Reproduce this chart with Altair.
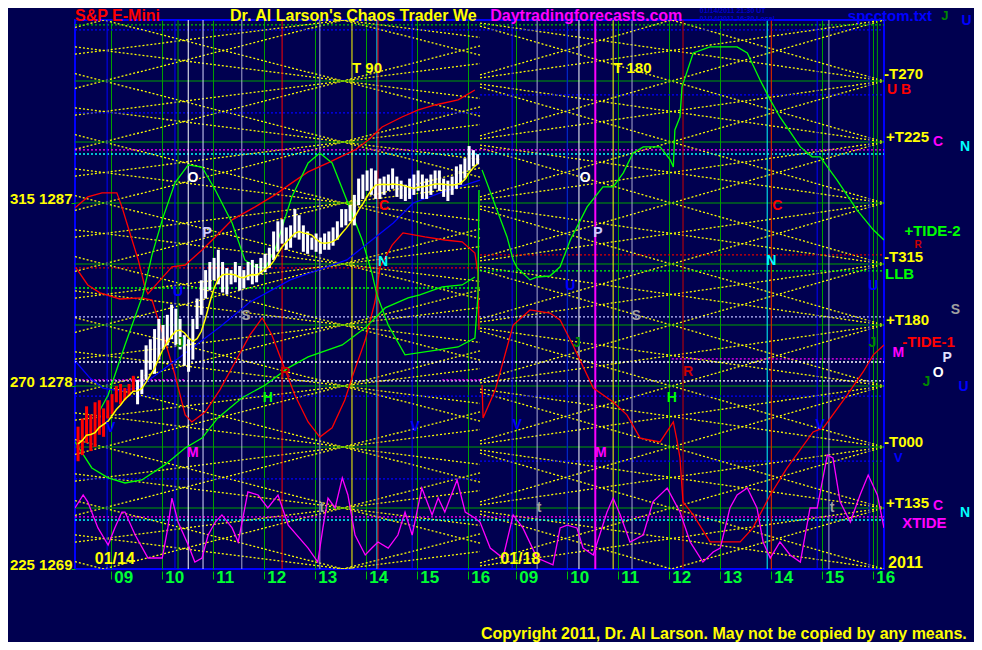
import altair as alt
import pandas as pd

# ---------------------------------------------------------------- settings
BG = "#000050"
FONT = "Liberation Sans, Arial, sans-serif"

# two sessions on one continuous hour axis; session-2 clock hour + DAY2_SHIFT = axis value
X_MIN, X_MAX = 8.30, 24.16
DAY1_END = 16.24
DAY2_SHIFT = 7.94
Y_MIN, Y_MAX = 1269, 1296

hour_ticks = [9, 10, 11, 12, 13, 14, 15, 16]
y_ticks = [1269, 1278, 1287]
y_tick_deg = ["225", "270", "315"]

# ---------------------------------------------------------------- price bars (5 min, session 1)
bar_start = 8.36
bar_minutes = 5
n_red = 14
bar_high = [1276.0, 1276.4, 1277.0, 1276.6, 1277.2, 1277.3, 1276.9, 1277.3, 1277.6, 1278.0, 1278.1, 1277.9, 1278.1, 1278.5,
            1278.3, 1278.8, 1280.0, 1280.3, 1280.8, 1281.3, 1281.0, 1281.5, 1282.0, 1281.8,
            1281.3, 1280.5, 1280.3, 1281.3, 1282.3, 1283.2, 1283.7, 1284.1, 1284.3, 1284.7,
            1284.1, 1283.8, 1283.7, 1284.1, 1283.9, 1283.7, 1284.1, 1284.2, 1284.0, 1284.3,
            1284.5, 1284.8, 1285.6, 1286.1, 1286.2, 1285.8, 1285.9, 1286.7, 1286.4, 1285.9,
            1285.6, 1285.3, 1285.5, 1285.3, 1285.5, 1285.6, 1285.8, 1286.1, 1286.7, 1286.7,
            1286.9, 1287.4, 1288.2, 1288.4, 1288.6, 1288.7, 1288.6, 1288.2, 1288.3, 1288.4,
            1288.7, 1288.3, 1288.1, 1287.9, 1288.2, 1288.4, 1288.6, 1288.4, 1288.2, 1288.4,
            1288.6, 1288.6, 1288.2, 1288.1, 1288.3, 1288.8, 1288.9, 1289.2, 1289.8, 1289.6,
            1289.4]
bar_low = [1274.3, 1274.6, 1275.2, 1274.8, 1275.0, 1275.6, 1275.5, 1276.4, 1276.6, 1277.2, 1277.1, 1277.3, 1277.5, 1277.7,
           1277.1, 1277.6, 1278.3, 1278.8, 1278.6, 1279.3, 1279.8, 1280.0, 1280.3, 1280.0,
           1279.8, 1279.0, 1278.7, 1279.3, 1280.8, 1281.5, 1282.3, 1282.7, 1283.2, 1283.0,
           1282.6, 1282.5, 1283.0, 1283.1, 1282.7, 1282.8, 1283.2, 1283.0, 1283.1, 1283.5,
           1283.6, 1283.8, 1284.2, 1284.6, 1285.0, 1284.7, 1284.8, 1285.3, 1285.2, 1284.6,
           1284.5, 1284.7, 1284.6, 1284.5, 1284.7, 1284.7, 1284.9, 1285.2, 1285.8, 1285.9,
           1286.1, 1285.9, 1286.9, 1287.2, 1287.6, 1287.4, 1287.2, 1287.2, 1287.4, 1287.6,
           1287.7, 1287.3, 1287.2, 1287.1, 1287.2, 1287.4, 1287.6, 1287.2, 1287.2, 1287.4,
           1287.7, 1287.6, 1287.3, 1287.1, 1287.4, 1287.7, 1287.9, 1288.2, 1288.6, 1288.8,
           1288.9]

# ---------------------------------------------------------------- forecast curves
red_a_t = [8.30, 8.55, 8.83, 9.12, 9.22, 9.34, 9.54, 9.67, 9.73, 10.20, 10.46, 10.79, 11.05, 11.38, 11.83,
           12.22, 12.55, 12.87, 13.26, 13.79, 14.05, 14.32, 14.71, 15.03, 15.36, 15.81, 16.14]
red_a_p = [1286.76, 1287.30, 1287.50, 1287.50, 1286.81, 1285.82, 1284.20, 1282.87, 1282.53, 1283.86, 1283.95,
           1284.69, 1285.33, 1286.17, 1286.81, 1287.40, 1287.99, 1288.53, 1288.97, 1289.61, 1290.10, 1290.74,
           1291.23, 1291.58, 1291.82, 1292.07, 1292.56]

red_b_t = [8.32, 8.55, 8.79, 9.18, 9.61, 9.81, 10.06, 10.26, 10.46, 10.59, 10.85, 11.14, 11.44, 11.73, 11.97,
           12.16, 12.36, 12.61, 12.87, 13.10, 13.34, 13.59, 13.73, 13.99, 14.18, 14.28, 14.52, 14.73, 15.16,
           15.55, 15.89, 16.14, 16.20, 16.22]
red_b_p = [1283.81, 1282.97, 1282.58, 1282.28, 1282.33, 1282.23, 1280.26, 1278.54, 1276.58, 1276.23, 1276.72,
           1277.81, 1279.18, 1280.51, 1281.35, 1280.51, 1279.18, 1277.56, 1276.23, 1275.49, 1275.94, 1277.31,
           1278.40, 1280.26, 1282.13, 1283.86, 1284.94, 1285.53, 1285.33, 1285.18, 1285.09, 1284.54, 1283.56,
           1280.76]

red_c_t = [16.28, 16.30, 16.54, 16.89, 17.22, 17.61, 17.81, 18.06, 18.46, 18.85, 19.12, 19.38, 19.77, 20.03,
           20.10, 20.16, 20.22, 20.42, 20.75, 21.34, 21.59, 21.93, 22.26, 22.77, 22.97, 23.44, 23.75, 23.95, 24.16]
red_c_p = [1278.05, 1276.43, 1277.81, 1281.00, 1281.74, 1281.59, 1281.25, 1280.02, 1277.90, 1277.21, 1276.58,
           1275.44, 1275.25, 1276.23, 1275.35, 1274.46, 1272.30, 1271.66, 1270.33, 1270.33, 1271.02, 1272.64,
           1273.97, 1275.74, 1275.94, 1277.56, 1278.69, 1279.53, 1280.02]

green_a_t = [8.79, 8.95, 9.28, 9.63, 9.81, 10.01, 10.26, 10.52, 10.79, 11.05, 11.38, 11.63, 11.83, 12.03, 12.22,
             12.55, 12.87, 13.10, 13.34, 13.65, 13.93, 14.12, 14.22, 14.44, 14.77, 15.81, 16.14, 16.20, 16.22]
green_a_p = [1276.82, 1277.56, 1280.02, 1282.48, 1284.45, 1286.17, 1287.99, 1288.87, 1288.77, 1287.64, 1286.02,
             1284.20, 1283.86, 1283.81, 1284.69, 1287.30, 1288.97, 1289.46, 1288.97, 1287.00, 1285.18, 1283.56,
             1282.48, 1281.00, 1279.53, 1279.92, 1280.36, 1282.48, 1287.64]

green_b_t = [8.30, 8.63, 8.95, 9.28, 9.61, 10.06, 10.46, 10.79, 11.10, 11.57, 12.03, 12.48, 12.87, 13.54, 13.99,
             14.38, 14.83, 15.06, 15.50, 15.89, 16.14]
green_b_p = [1275.25, 1273.97, 1273.48, 1273.23, 1273.38, 1274.12, 1274.95, 1275.44, 1276.43, 1277.41, 1278.05,
             1278.89, 1279.43, 1280.02, 1280.86, 1281.84, 1282.33, 1282.48, 1282.87, 1282.97, 1283.36]

green_c_t = [16.28, 16.50, 16.77, 16.89, 16.97, 17.22, 17.36, 17.61, 17.81, 18.01, 18.34, 18.65, 18.85, 19.05,
             19.24, 19.44, 19.77, 19.97, 20.03, 20.06, 20.16, 20.20, 20.42, 20.75, 21.28, 21.48, 21.73, 21.93,
             22.12, 22.52, 22.75, 22.91, 23.24, 23.63, 23.95, 24.16]
green_c_p = [1288.63, 1287.15, 1285.33, 1284.20, 1283.81, 1283.22, 1283.36, 1283.41, 1283.86, 1285.18, 1286.81,
             1287.79, 1287.79, 1288.48, 1289.46, 1289.76, 1289.76, 1289.12, 1288.77, 1290.59, 1291.23, 1292.71,
             1294.38, 1294.68, 1294.68, 1294.38, 1293.05, 1292.07, 1291.23, 1289.76, 1289.27, 1289.27, 1288.13,
             1286.66, 1285.68, 1285.18]

blue_t = [8.32, 8.59, 8.85, 9.18, 9.52, 9.83, 10.36, 11.14, 11.73, 12.52, 13.63, 14.54, 14.93, 15.46, 16.24]
blue_p = [1279.18, 1278.40, 1277.90, 1277.76, 1277.90, 1278.44, 1279.43, 1280.90, 1282.13, 1283.22, 1284.20,
          1286.02, 1287.00, 1287.50, 1288.13]

xtide_t = [8.30, 8.46, 8.55, 8.75, 8.95, 9.08, 9.22, 9.28, 9.48, 9.73, 10.01, 10.12, 10.20, 10.32, 10.52, 10.65,
           10.79, 10.91, 11.05, 11.18, 11.38, 11.50, 11.69, 11.89, 12.08, 12.28, 12.48, 12.87, 13.06, 13.16, 13.26,
           13.40, 13.54, 13.65, 13.79, 13.99, 14.12, 14.24, 14.44, 14.63, 14.77, 14.91, 15.10, 15.30, 15.42, 15.55,
           15.79, 15.95, 16.14, 16.24,
           16.44, 16.69, 16.89, 17.08, 17.36, 17.67, 17.81, 17.95, 18.14, 18.26, 18.46, 18.73, 18.85, 18.99, 19.18,
           19.44, 19.63, 19.91, 20.16, 20.36, 20.61, 20.81, 20.95, 21.14, 21.28, 21.48, 21.67, 21.79, 21.93, 22.12,
           22.32, 22.52, 22.71, 22.85, 23.05, 23.16, 23.30, 23.50, 23.69, 23.85, 24.03, 24.16]
xtide_p = [1272.00, 1272.64, 1272.30, 1271.02, 1270.18, 1271.02, 1271.80, 1271.80, 1270.67, 1269.54, 1269.54,
           1271.02, 1272.49, 1271.31, 1270.18, 1269.34, 1269.54, 1270.67, 1271.31, 1271.66, 1271.02, 1270.33,
           1272.79, 1272.64, 1272.00, 1272.64, 1271.16, 1270.03, 1269.34, 1271.02, 1272.49, 1272.00, 1273.48,
           1272.64, 1270.67, 1269.69, 1270.03, 1270.33, 1270.03, 1270.67, 1271.80, 1270.67, 1272.98, 1271.66,
           1272.49, 1271.80, 1273.38, 1271.80, 1271.51, 1271.31,
           1270.03, 1269.54, 1271.66, 1271.02, 1269.54, 1269.20, 1271.02, 1271.16, 1271.02, 1270.03, 1269.69,
           1271.80, 1272.49, 1271.66, 1270.33, 1270.67, 1272.30, 1272.98, 1271.80, 1270.33, 1269.34, 1269.84,
           1270.03, 1272.00, 1272.64, 1272.98, 1272.00, 1270.33, 1269.54, 1270.33, 1269.69, 1269.34, 1272.00,
           1272.00, 1274.61, 1274.46, 1272.30, 1271.31, 1272.64, 1273.62, 1272.64, 1271.02]

# ---------------------------------------------------------------- time/price lattice
lattice_base = 1269
lattice_step = 3
lattice_days = [  # (session start, session end, crossing time, slopes in points/hour)
    (X_MIN, DAY1_END, 13.55, [0.64, -0.64, 0.32, -0.32]),
    (DAY1_END, X_MAX, 24.16, [0.72, -0.72, 0.36, -0.36]),
]
green_levels = [1272, 1275, 1278, 1281, 1284, 1287, 1290, 1293]

# ---------------------------------------------------------------- marker lines
vline_t = [8.93, 10.26, 10.32, 10.52, 10.81, 11.57, 12.36, 13.10, 13.73, 14.22, 14.24, 14.91,
           16.87, 17.36, 17.95, 18.18, 18.50, 18.85, 19.22, 20.22, 21.87, 21.95, 22.85, 23.08, 23.87, 24.03]
vline_color = ["#0000ff", "#0000ff", "#00a000", "#ffffff", "#d8d8ff", "#a8a8d0", "#ff0000", "#a8a8d0",
               "#ffff00", "#00ffff", "#ff0000", "#0000ff",
               "#0000ff", "#a8a8d0", "#0000ff", "#ffffff", "#ff00ff", "#ffff00", "#a8a8d0", "#cc0000",
               "#00ffff", "#ff0000", "#0000ff", "#a8a8d0", "#0000ff", "#00a000"]

hline_t0 = [X_MIN, X_MIN, X_MIN, DAY1_END, X_MIN, X_MIN, X_MIN, DAY1_END, X_MIN, DAY1_END, X_MIN, X_MIN, X_MIN,
            8.44, 15.50, 20.00, X_MIN, X_MIN, DAY1_END, X_MIN, X_MIN]
hline_t1 = [X_MAX, X_MAX, DAY1_END, X_MAX, X_MAX, X_MAX, DAY1_END, X_MAX, DAY1_END, X_MAX, X_MAX, X_MAX, X_MAX,
            10.46, DAY1_END, X_MAX, X_MAX, DAY1_END, X_MAX, X_MAX, X_MAX]
hline_p = [1295.76, 1295.51, 1291.43, 1292.32, 1289.61, 1289.41, 1283.81, 1284.45, 1282.82, 1283.66, 1281.40,
           1279.18, 1278.25, 1278.30, 1278.30, 1279.33, 1277.50, 1273.43, 1274.31, 1271.56, 1271.41]
hline_color = ["#00c000", "#0000ff", "#0000ff", "#0000ff", "#ff00ff", "#00ffff", "#dd0000", "#dd0000",
               "#00ff00", "#00ff00", "#c0c0ff", "#ffffff", "#ffffff", "#ff00ff", "#ff00ff", "#ff00ff",
               "#0000ff", "#0000ff", "#0000ff", "#ff00ff", "#00ffff"]

# ---------------------------------------------------------------- texts
letters = [  # (text, t, p, colour, size)  centred
    ("O", 10.61, 1288.23, "#ffffff", 14), ("P", 10.89, 1285.53, "#ccccff", 14), ("S", 11.65, 1281.45, "#a0a0a0", 14),
    ("M", 10.61, 1274.71, "#ff00ff", 14), ("H", 12.08, 1277.41, "#00ff00", 14), ("R", 12.42, 1278.64, "#cc0000", 14),
    ("C", 14.36, 1286.86, "#ff0000", 14), ("N", 14.34, 1284.10, "#00ffff", 14), ("V", 9.00, 1275.94, "#0000ff", 14),
    ("V", 14.97, 1275.99, "#0000ff", 14), ("J", 10.36, 1280.10, "#008800", 14), ("t", 13.14, 1272.0, "#a0a0a0", 14),
    ("U", 10.32, 1282.6, "#0000ff", 14),
    ("O", 18.30, 1288.23, "#ffffff", 14), ("P", 18.55, 1285.53, "#ccccff", 14), ("S", 19.30, 1281.45, "#a0a0a0", 14),
    ("M", 18.61, 1274.71, "#ff00ff", 14), ("H", 20.00, 1277.41, "#00ff00", 14), ("R", 20.32, 1278.69, "#cc0000", 14),
    ("C", 22.07, 1286.86, "#ff0000", 14), ("N", 21.95, 1284.15, "#00ffff", 14), ("V", 16.97, 1276.08, "#0000ff", 14),
    ("V", 22.91, 1276.08, "#0000ff", 14), ("J", 18.14, 1280.10, "#008800", 14), ("t", 17.40, 1272.0, "#a0a0a0", 14),
    ("t", 23.14, 1272.0, "#a0a0a0", 14), ("J", 23.93, 1280.10, "#008800", 14), ("U", 18.01, 1282.9, "#0000ff", 14),
    ("U", 23.95, 1282.9, "#0000ff", 14),
    # right margin
    ("C", 25.22, 1290.00, "#ff00ff", 14), ("N", 25.75, 1289.76, "#00ffff", 14), ("R", 24.83, 1284.95, "#cc0000", 10),
    ("S", 25.56, 1281.74, "#a0a0a0", 14), ("M", 24.44, 1279.63, "#ff00ff", 14), ("P", 25.40, 1279.40, "#e0e0ff", 14),
    ("O", 25.22, 1278.64, "#ffffff", 14), ("J", 24.99, 1278.20, "#008800", 14), ("U", 25.72, 1277.95, "#0000ff", 14),
    ("V", 24.44, 1274.45, "#0000ff", 13), ("C", 25.22, 1272.12, "#ff00ff", 14), ("N", 25.75, 1271.75, "#00ffff", 14),
]
big_centred = [("01/14", 9.08, 1269.50, "#ffff00"), ("01/18", 17.03, 1269.50, "#ffff00")]
left_texts = [  # (text, t, p, colour, size)  vertically centred
    ("T  90", 13.73, 1293.65, "#ffff00", 15),
    ("T  180", 18.85, 1293.65, "#ffff00", 15),
    ("-T270", 24.16, 1293.35, "#ffff00", 15),
    ("U B", 24.22, 1292.55, "#ff0000", 14),
    ("+T225", 24.20, 1290.25, "#ffff00", 15),
    ("+TIDE-2", 24.56, 1285.62, "#00ff00", 15),
    ("-T315", 24.16, 1284.35, "#ffff00", 15),
    ("LLB", 24.18, 1283.50, "#00ff00", 15),
    ("+T180", 24.20, 1281.25, "#ffff00", 15),
    ("-TIDE-1", 24.52, 1280.17, "#ff0000", 15),
    ("-T000", 24.16, 1275.25, "#ffff00", 15),
    ("+T135", 24.20, 1272.25, "#ffff00", 15),
    ("XTIDE", 24.52, 1271.25, "#ff00ff", 15),
    ("2011", 24.24, 1269.30, "#ffff00", 16),
]
top_texts = [  # (text, t, p, colour, size)  on the baseline
    ("S&P E-Mini", 8.30, 1295.95, "#ff0000", 16),
    ("Dr. Al Larson's Chaos Trader We", 11.34, 1295.95, "#ffff00", 16),
    ("Daytradingforecasts.com", 16.44, 1295.95, "#ff00ff", 16),
    ("01/14/2011 21:30 UT", 20.55, 1296.33, "#0000cc", 7),
    ("01/14/2011 16:30 Local", 20.55, 1295.96, "#0000cc", 7),
    ("spcctom.txt", 23.45, 1295.95, "#0000ff", 15),
    ("J", 25.28, 1296.0, "#008800", 13),
    ("U", 25.68, 1295.75, "#0000ff", 14),
    ("Copyright 2011, Dr. Al Larson. May not be copied by any means.", 16.26, 1265.55, "#ffff00", 16),
]

# ---------------------------------------------------------------- tables
bars = pd.DataFrame({"high": bar_high, "low": bar_low})
bars["i"] = range(len(bars))
bars["t"] = bar_start + bars["i"] * bar_minutes / 60
bars["mid"] = (bars["high"] + bars["low"]) / 2
bars["color"] = ["#ff0000" if i < n_red else "#ffffff" for i in bars["i"]]

curve_parts = []
for name, ts, ps, col in [("redA", red_a_t, red_a_p, "#ff0000"), ("redB", red_b_t, red_b_p, "#ff0000"),
                          ("redC", red_c_t, red_c_p, "#ff0000"), ("grnA", green_a_t, green_a_p, "#00ff00"),
                          ("grnB", green_b_t, green_b_p, "#00ff00"), ("grnC", green_c_t, green_c_p, "#00ff00"),
                          ("blue", blue_t, blue_p, "#0000ff"), ("xtide", xtide_t, xtide_p, "#ff00ff")]:
    d = pd.DataFrame({"t": ts, "p": ps})
    d["name"] = name
    d["color"] = col
    d["k"] = range(len(d))
    curve_parts.append(d)
curves = pd.concat(curve_parts, ignore_index=True)

lat_rows = []
for t0, t1, tc, slopes in lattice_days:
    for s in slopes:
        for j in range(-4, 14):
            lat_rows.append({"t0": t0, "t1": t1, "tc": tc, "slope": s, "level": lattice_base + lattice_step * j})
lattice = pd.DataFrame(lat_rows)

vlines = pd.DataFrame({"t": vline_t, "color": vline_color})
vlines["w"] = [2 if c == "#ff00ff" else 1 for c in vline_color]
hlines = pd.DataFrame({"t0": hline_t0, "t1": hline_t1, "p": hline_p, "color": hline_color})
greens = pd.DataFrame({"p": green_levels})
let_df = pd.DataFrame(letters, columns=["text", "t", "p", "color", "size"])
big_df = pd.DataFrame(big_centred, columns=["text", "t", "p", "color"])
left_df = pd.DataFrame(left_texts, columns=["text", "t", "p", "color", "size"])
top_df = pd.DataFrame(top_texts, columns=["text", "t", "p", "color", "size"])

# ---------------------------------------------------------------- scales & axes
xs = alt.Scale(domain=[X_MIN, X_MAX], nice=False, zero=False)
ys = alt.Scale(domain=[Y_MIN, Y_MAX], nice=False, zero=False)

x_tick_vals = hour_ticks + [h + DAY2_SHIFT for h in hour_ticks]
x_label_expr = f"format(round(datum.value < {DAY1_END} ? datum.value : datum.value - {DAY2_SHIFT}), '02d')"
y_label_expr = ""
for v, dgr in zip(y_ticks[:-1], y_tick_deg[:-1]):
    y_label_expr += f"datum.value == {v} ? '{dgr} {v}' : "
y_label_expr += f"'{y_tick_deg[-1]} {y_ticks[-1]}'"

xaxis = alt.Axis(values=x_tick_vals, labelExpr=x_label_expr, title=None, grid=True, gridColor="#00a000",
                 gridWidth=1, gridOpacity=1, domain=False, tickColor="#00c000", tickSize=8, offset=2,
                 labelColor="#00ff33", labelFont=FONT, labelFontSize=17, labelFontWeight="bold",
                 labelAlign="left", labelBaseline="top", labelPadding=-10, labelOffset=3,
                 labelFlush=False, labelOverlap=False)
yaxis = alt.Axis(values=y_ticks, labelExpr=y_label_expr, title=None, grid=False, domain=False,
                 tickColor="#00c000", tickSize=4, labelColor="#ffff00", labelFont=FONT, labelFontSize=15,
                 labelFontWeight="bold", labelPadding=-1, labelBaseline="alphabetic",
                 labelFlush=False, labelOverlap=False)


def X(f):
    return alt.X(f"{f}:Q", scale=xs, axis=xaxis)


def Y(f):
    return alt.Y(f"{f}:Q", scale=ys, axis=yaxis)


nocol = alt.Color("color:N", scale=None)
fsize = alt.Size("size:Q", scale=None)

lattice_layer = alt.Chart(lattice).transform_calculate(
    p0="datum.level + datum.slope * (datum.t0 - datum.tc)",
    p1="datum.level + datum.slope * (datum.t1 - datum.tc)",
).mark_rule(color="#ffff00", strokeDash=[2, 2], strokeWidth=1.3, clip=True).encode(
    x=X("t0"), x2="t1:Q", y=Y("p0"), y2="p1:Q")

green_layer = alt.Chart(greens).mark_rule(color="#00a000", strokeWidth=1).encode(y=Y("p"))

hline_layer = alt.Chart(hlines).mark_rule(strokeDash=[2, 2], strokeWidth=1.3).encode(
    x=X("t0"), x2="t1:Q", y=Y("p"), color=nocol)

vline_layer = alt.Chart(vlines).mark_rule().encode(
    x=X("t"), color=nocol, strokeWidth=alt.StrokeWidth("w:Q", scale=None))

curve_layer = alt.Chart(curves).mark_line(strokeWidth=1.3, clip=True).encode(
    x=X("t"), y=Y("p"), detail="name:N", color=nocol, order="k:Q")

bar_layer = alt.Chart(bars).mark_rule(strokeWidth=3).encode(
    x=X("t"), y=Y("low"), y2="high:Q", color=nocol)

ma_layer = alt.Chart(bars).transform_window(
    ma="mean(mid)", frame=[-4, 0], sort=[alt.SortField("t")]
).mark_line(color="#ffff00", strokeWidth=1.5).encode(x=X("t"), y=Y("ma"))

letter_layer = alt.Chart(let_df).mark_text(font=FONT, fontWeight="bold", align="center",
                                          baseline="middle").encode(
    x=X("t"), y=Y("p"), text="text:N", color=nocol, size=fsize)
big_layer = alt.Chart(big_df).mark_text(font=FONT, fontSize=16, fontWeight="bold", align="center",
                                       baseline="middle").encode(x=X("t"), y=Y("p"), text="text:N",
                                                                 color=nocol)
left_layer = alt.Chart(left_df).mark_text(font=FONT, fontWeight="bold", align="left",
                                         baseline="middle").encode(
    x=X("t"), y=Y("p"), text="text:N", color=nocol, size=fsize)
top_layer = alt.Chart(top_df).mark_text(font=FONT, fontWeight="bold", align="left",
                                       baseline="alphabetic").encode(
    x=X("t"), y=Y("p"), text="text:N", color=nocol, size=fsize)

chart = alt.layer(
    lattice_layer, green_layer, hline_layer, vline_layer, curve_layer, bar_layer, ma_layer,
    letter_layer, big_layer, left_layer, top_layer,
).properties(
    width=809, height=549,
    padding={"left": 67, "top": 12, "right": 90, "bottom": 73},
    autosize=alt.AutoSizeParams(type="none"),
    background=BG,
).configure_view(fill=BG, stroke="#0000ff", strokeWidth=2)

chart.save("out.html", embed_options={"renderer": "svg", "actions": False})
